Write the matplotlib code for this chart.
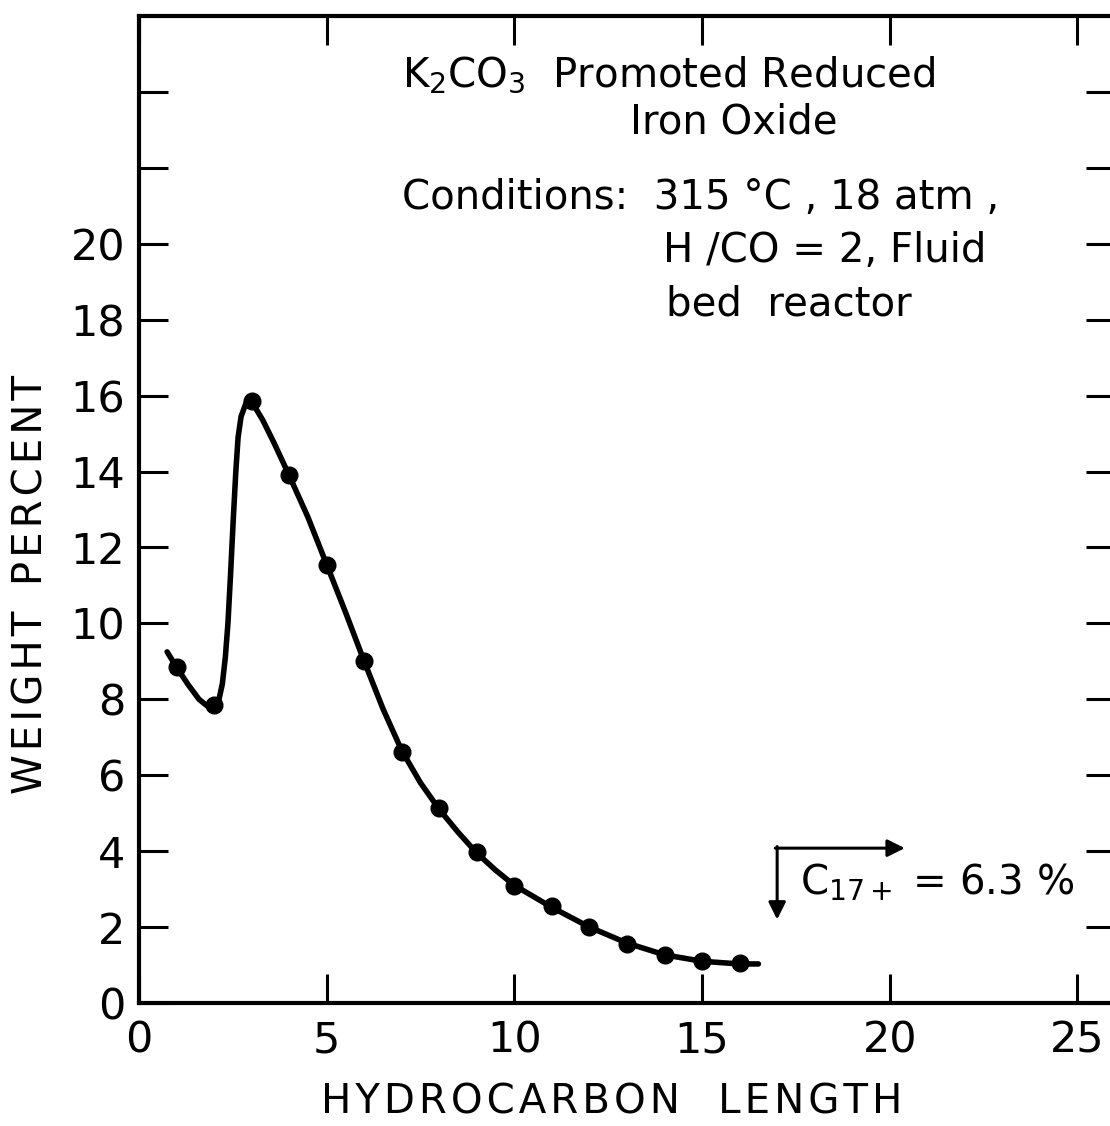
import numpy as np
import matplotlib
matplotlib.use("Agg")
import matplotlib.pyplot as plt
from matplotlib.ticker import FixedLocator, FuncFormatter

# measured points (carbon number, weight percent)
carbon_no = [1, 2, 3, 4, 5, 6, 7, 8, 9, 10, 11, 12, 13, 14, 15, 16]
weight_pct = [8.85, 7.85, 15.85, 13.9, 11.55, 9.0, 6.6, 5.15, 3.98, 3.08,
              2.55, 2.0, 1.55, 1.26, 1.1, 1.05]

# hand drawn curve
curve_x = [0.75, 1.0, 1.3, 1.6, 1.85, 2.0, 2.12, 2.22, 2.3, 2.37, 2.44, 2.51,
           2.58, 2.64, 2.72, 2.85, 3.0, 3.3, 3.6, 4.0, 4.5, 5.0, 5.5, 6.0,
           6.5, 7.0, 7.5, 8.0, 8.5, 9.0, 9.5, 10.0, 11.0, 12.0, 13.0, 14.0,
           15.0, 16.0, 16.5]
curve_y = [9.25, 8.85, 8.4, 8.0, 7.8, 7.8, 7.95, 8.4, 9.1, 10.0, 11.3, 12.7,
           14.0, 14.9, 15.45, 15.8, 15.85, 15.35, 14.75, 13.9, 12.8, 11.55,
           10.3, 9.0, 7.75, 6.65, 5.8, 5.1, 4.5, 3.95, 3.5, 3.1, 2.52, 2.0,
           1.58, 1.27, 1.1, 1.03, 1.03]

y_ticks = list(range(0, 26, 2))
x_ticks = [0, 5, 10, 15, 20, 25]

plt.rcParams['font.family'] = ['DejaVu Sans']
plt.rcParams['mathtext.default'] = 'regular'

fig = plt.figure(figsize=(11.1, 11.26), dpi=100)
ax = fig.add_axes([0.1252, 0.1092, 0.8793, 0.8766])

ax.plot(curve_x, curve_y, color='black', lw=4, solid_capstyle='round',
        solid_joinstyle='round')
ax.plot(carbon_no, weight_pct, 'o', color='black', ms=12)

ax.set_xlim(0, 26)
ax.set_ylim(0, 26)

for s in ax.spines.values():
    s.set_linewidth(3)

ax.yaxis.set_major_locator(FixedLocator(y_ticks))
ax.yaxis.set_major_formatter(FuncFormatter(lambda v, p: '%d' % v if v <= 20 else ''))
ax.xaxis.set_major_locator(FixedLocator(x_ticks))
ax.tick_params(direction='in', length=21, width=2.2, labelsize=31,
               top=True, right=True, pad=10)
ax.tick_params(axis='x', pad=12)

hs = '\u200a'
ax.set_xlabel(hs.join('HYDROCARBON') + '   ' + hs.join('LENGTH'), fontsize=29)
ax.xaxis.set_label_coords(0.484, -0.081)
ax.set_ylabel(hs.join('WEIGHT') + '  ' + hs.join('PERCENT'), fontsize=29)
ax.yaxis.set_label_coords(-0.09, 0.4245)

ax.text(7.0, 24.45, r'K$_2$CO$_3$  Promoted Reduced', fontsize=29,
        ha='left', va='center')
ax.text(15.85, 23.2, 'Iron Oxide', fontsize=29, ha='center', va='center')
ax.text(7.0, 21.2, 'Conditions:  315 °C , 18 atm ,', fontsize=29,
        ha='left', va='center')
ax.text(13.97, 19.8, 'H /CO = 2, Fluid', fontsize=29, ha='left', va='center')
ax.text(14.05, 18.4, 'bed  reactor', fontsize=29, ha='left', va='center')

# C17+ arrows
ax.annotate('', xy=(20.4, 4.08), xytext=(16.95, 4.08),
            arrowprops=dict(arrowstyle='-|>', lw=2.2, color='black',
                            mutation_scale=26, shrinkA=0, shrinkB=0))
ax.annotate('', xy=(17.0, 2.2), xytext=(17.0, 4.12),
            arrowprops=dict(arrowstyle='-|>', lw=2.2, color='black',
                            mutation_scale=26, shrinkA=0, shrinkB=0))
ax.text(17.6, 2.85, r'C$_{17+}$ = 6.3 %', fontsize=29, ha='left', va='baseline')

fig.savefig('out.png', dpi=100)
